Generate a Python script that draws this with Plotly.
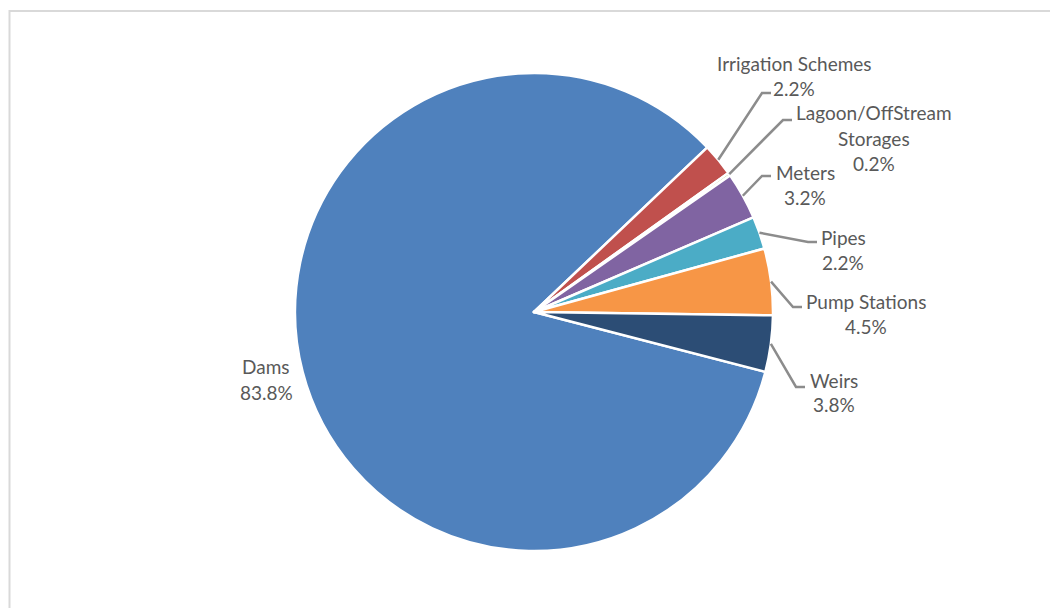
import math
import plotly.graph_objects as go

# Asset categories and their share of the total (percent)
categories = ["Dams", "Irrigation Schemes", "Lagoon/OffStream Storages",
              "Meters", "Pipes", "Pump Stations", "Weirs"]
shares = [83.8, 2.2, 0.2, 3.2, 2.2, 4.5, 3.8]
colors = ["#4F81BD", "#C0504D", "#9BBB59", "#8064A2", "#4BACC6", "#F79646", "#2C4D75"]

# Figure geometry (pixels)
W, H = 1050, 608
CX, CY, R = 534, 312, 239
ROTATION = 104.5

# Label placement (pixel centre of the first text line) and leader end points
label_pos = {
    "Dams": (266, 367),
    "Irrigation Schemes": (794, 63),
    "Lagoon/OffStream Storages": (874, 113),
    "Meters": (805, 172),
    "Pipes": (843, 237),
    "Pump Stations": (866, 301),
    "Weirs": (834, 380),
}
leader_end = {
    "Irrigation Schemes": (771, 93),
    "Lagoon/OffStream Storages": (792, 120),
    "Meters": (771, 176),
    "Pipes": (817, 242),
    "Pump Stations": (802, 307),
    "Weirs": (805, 387),
}
wrap = {"Lagoon/OffStream Storages": ["Lagoon/OffStream", "Storages"]}

LINE_H = 25
FONT = dict(family="Lato, Carlito, 'Open Sans', sans-serif", size=19, color="#595959")
LEADER = dict(color="#8C8C8C", width=2.5)


def px(x):
    return x / W


def py(y):
    return 1 - y / H


fig = go.Figure(go.Pie(
    labels=categories,
    values=shares,
    sort=False,
    direction="clockwise",
    rotation=ROTATION,
    marker=dict(colors=colors, line=dict(color="white", width=2.5)),
    textinfo="none",
    hoverinfo="label+percent",
    showlegend=False,
    domain=dict(x=[px(CX - R), px(CX + R)], y=[py(CY + R), py(CY - R)]),
))

annotations = []
shapes = []

# Chart area border
shapes.append(dict(type="rect", xref="paper", yref="paper",
                   x0=px(9.5), x1=px(W + 20), y0=py(11), y1=py(H + 20),
                   line=dict(color="#D9D9D9", width=2), layer="below"))

total = sum(shares)
angle = ROTATION
for name, val in zip(categories, shares):
    span = val / total * 360
    mid = math.radians(angle + span / 2)
    angle += span

    lines = wrap.get(name, [name]) + [f"{val:.1f}%"]
    lx, ly = label_pos[name]
    for i, t in enumerate(lines):
        annotations.append(dict(x=px(lx), y=py(ly + i * LINE_H), xref="paper", yref="paper",
                                text=t, showarrow=False, font=FONT,
                                xanchor="center", yanchor="middle"))

    if name in leader_end:
        sx = CX + R * math.sin(mid)
        sy = CY - R * math.cos(mid)
        ex, ey = leader_end[name]
        path = f"M {px(sx)},{py(sy)} L {px(ex - 9)},{py(ey)} L {px(ex)},{py(ey)}"
        shapes.append(dict(type="path", xref="paper", yref="paper", path=path,
                           line=LEADER))

fig.update_layout(
    width=W, height=H,
    margin=dict(l=0, r=0, t=0, b=0),
    paper_bgcolor="white",
    plot_bgcolor="white",
    annotations=annotations,
    shapes=shapes,
)

fig.write_html("out.html")
